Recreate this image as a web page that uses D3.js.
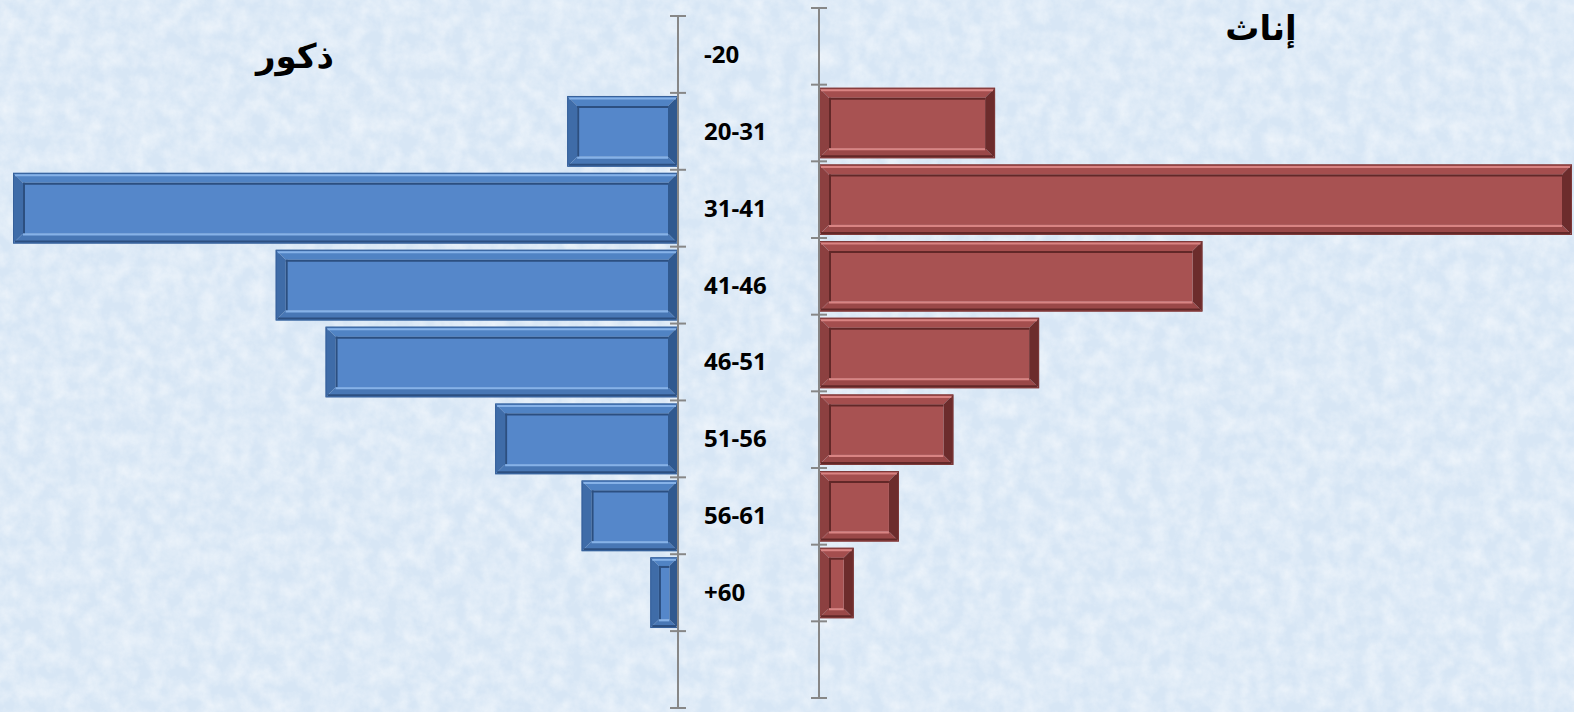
<!DOCTYPE html>
<html>
<head>
<meta charset="utf-8">
<script src="https://cdn.jsdelivr.net/npm/d3@7"></script>
<style>
  html, body { margin: 0; padding: 0; overflow: hidden; }
  body { width: 1574px; height: 712px; }
</style>
</head>
<body>
<div id="viz"></div>
<script>
'use strict';

// age groups, top to bottom
const categories = ['-20', '20-31', '31-41', '41-46', '46-51', '51-56', '56-61', '+60'];
// ذكور (left, blue)
const males = [0, 10, 60, 36.3, 31.8, 16.5, 8.7, 2.5];
// إناث (right, red)
const females = [0, 15.2, 65, 33.1, 19.0, 11.6, 6.9, 3.0];
const maleTitle = 'ذكور';
const femaleTitle = 'إناث';

const W = 1574, H = 712;

const svg = d3.select('#viz')
  .append('svg')
    .attr('width', W)
    .attr('height', H);

const defs = svg.append('defs');

// paper-like texture for the background
const tex = defs.append('filter')
  .attr('id', 'tex')
  .attr('x', 0).attr('y', 0).attr('width', '100%').attr('height', '100%');
tex.append('feTurbulence')
  .attr('type', 'fractalNoise')
  .attr('baseFrequency', 0.06)
  .attr('numOctaves', 4)
  .attr('seed', 3);
tex.append('feColorMatrix')
  .attr('type', 'matrix')
  .attr('values', '0 0 0 0 1  0 0 0 0 1  0 0 0 0 1  1.4 0 0 0 -0.4');

svg.append('rect')
  .attr('width', W).attr('height', H)
  .attr('fill', '#d7e6f5');
svg.append('rect')
  .attr('width', W).attr('height', H)
  .attr('filter', 'url(#tex)')
  .attr('opacity', 0.6);

// an empty ninth slot sits under the last age group on both axes
const slots = categories.concat(['']);

const yLeft = d3.scaleBand()
  .domain(slots)
  .range([16, 708])
  .paddingInner(0.08)
  .paddingOuter(0.04);

const yRight = d3.scaleBand()
  .domain(slots)
  .range([8, 698])
  .paddingInner(0.08)
  .paddingOuter(0.04);

const xLeft = d3.scaleLinear()
  .domain([0, 60])
  .range([678, 13]);

const xRight = d3.scaleLinear()
  .domain([0, 65])
  .range([819, 1572]);

const palette = {
  blue: {base: '#5587ca', top: '#5083c4', left: '#3f6ca8', bottom: '#4877b5', right: '#30598f',
         light: '#86b2e8', dark: '#2c4f80', edge: '#36609a'},
  red: {base: '#a85252', top: '#a44e4e', left: '#8c4040', bottom: '#9a4848', right: '#6c2c2c',
        light: '#d98483', dark: '#622828', edge: '#7d3838'}
};

function bevelBar(g, x0, x1, y0, y1, c) {
  const w = x1 - x0, h = y1 - y0;
  if (w <= 0) return;
  const b = Math.min(10, w / 3.2, h / 3.2);
  const ix0 = x0 + b, ix1 = x1 - b, iy0 = y0 + b, iy1 = y1 - b;
  const poly = (pts, fill) => g.append('polygon')
    .attr('points', pts.map(p => p.join(',')).join(' '))
    .attr('fill', fill);
  const line = (xa, ya, xb, yb, stroke, sw) => g.append('line')
    .attr('x1', xa).attr('y1', ya).attr('x2', xb).attr('y2', yb)
    .attr('stroke', stroke).attr('stroke-width', sw);

  // frame strips
  poly([[x0, y0], [x1, y0], [ix1, iy0], [ix0, iy0]], c.top);
  poly([[x0, y0], [ix0, iy0], [ix0, iy1], [x0, y1]], c.left);
  poly([[x0, y1], [ix0, iy1], [ix1, iy1], [x1, y1]], c.bottom);
  poly([[x1, y0], [x1, y1], [ix1, iy1], [ix1, iy0]], c.right);
  // highlights / shadows on the frame
  line(x0 + 2, y0 + 2.5, x1 - 2, y0 + 2.5, c.light, 2);
  line(x0 + 2, y1 - 2, x1 - 2, y1 - 2, c.dark, 2);
  // inner panel
  g.append('rect')
    .attr('x', ix0).attr('y', iy0).attr('width', ix1 - ix0).attr('height', iy1 - iy0)
    .attr('fill', c.base);
  line(ix0, iy0 + 1, ix1, iy0 + 1, c.dark, 2);
  line(ix0 + 1, iy0, ix0 + 1, iy1, c.dark, 2);
  line(ix0, iy1 + 1, ix1, iy1 + 1, c.light, 2);
  // outline
  g.append('rect')
    .attr('x', x0 + 0.5).attr('y', y0 + 0.5).attr('width', w - 1).attr('height', h - 1)
    .attr('fill', 'none')
    .attr('stroke', c.edge).attr('stroke-width', 1);
}

// male bars
const gLeft = svg.append('g');
categories.forEach((cat, i) => {
  const y0 = yLeft(cat);
  bevelBar(gLeft, xLeft(males[i]), xLeft(0), y0, y0 + yLeft.bandwidth(), palette.blue);
});

// female bars
const gRight = svg.append('g');
categories.forEach((cat, i) => {
  const y0 = yRight(cat);
  bevelBar(gRight, xRight(0), xRight(females[i]), y0, y0 + yRight.bandwidth(), palette.red);
});

// vertical axes with crossing ticks at slot boundaries
function drawAxis(scale, x) {
  const [top, bottom] = scale.range();
  const step = scale.step();
  const g = svg.append('g')
    .attr('stroke', '#878787');
  g.append('line')
    .attr('x1', x).attr('x2', x)
    .attr('y1', top).attr('y2', bottom)
    .attr('stroke-width', 2);
  g.selectAll('line.tick')
    .data(d3.range(scale.domain().length + 1))
    .join('line')
      .attr('class', 'tick')
      .attr('x1', x - 8).attr('x2', x + 8)
      .attr('y1', i => top + i * step)
      .attr('y2', i => top + i * step)
      .attr('stroke-width', 2);
}

drawAxis(yLeft, xLeft(0));
drawAxis(yRight, xRight(0));

// age group labels between the two axes
svg.append('g')
  .selectAll('text')
  .data(categories)
  .join('text')
    .attr('x', 704)
    .attr('y', d => yLeft(d) + yLeft.bandwidth() / 2)
    .attr('dy', '0.35em')
    .attr('font-family', '"Open Sans", "DejaVu Sans", sans-serif')
    .attr('font-weight', 700)
    .attr('font-size', 24)
    .attr('fill', '#000')
    .text(d => d);

// titles
svg.append('text')
  .attr('x', 295)
  .attr('y', 68)
  .attr('text-anchor', 'middle')
  .attr('font-family', '"DejaVu Sans", sans-serif')
  .attr('font-weight', 700)
  .attr('font-size', 34)
  .attr('direction', 'rtl')
  .text(maleTitle);

svg.append('text')
  .attr('x', 1261)
  .attr('y', 40)
  .attr('text-anchor', 'middle')
  .attr('font-family', '"DejaVu Sans", sans-serif')
  .attr('font-weight', 700)
  .attr('font-size', 34)
  .attr('direction', 'rtl')
  .text(femaleTitle);
</script>
</body>
</html>
